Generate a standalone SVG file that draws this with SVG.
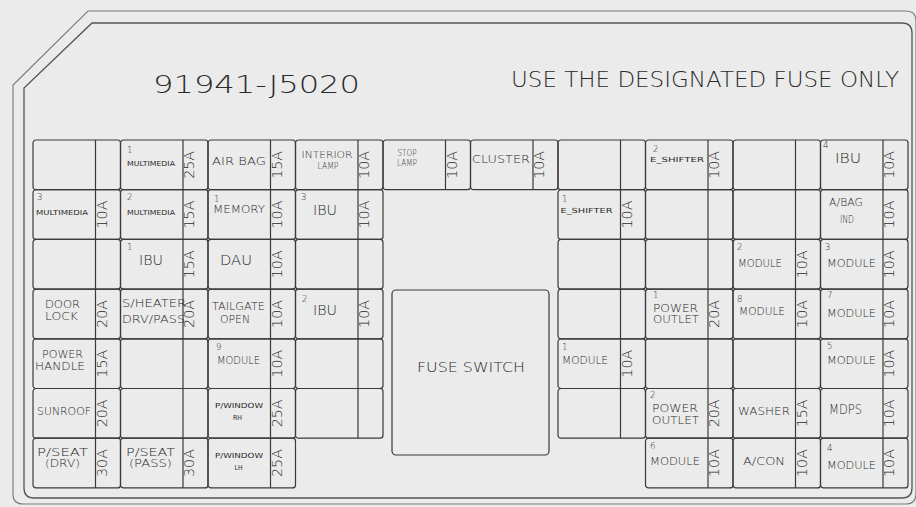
<svg xmlns="http://www.w3.org/2000/svg" width="916" height="507" viewBox="0 0 916 507">
<style>
.bg{fill:#ebebeb}
.bd{fill:none;stroke:#555;stroke-width:1.3}
.bo{fill:none;stroke:#7a7a7a;stroke-width:1.1}
.f{fill:none;stroke:#3a3a3a;stroke-width:1.2}
text{font-family:"DejaVu Sans","Liberation Sans",sans-serif;font-weight:200;fill:#2a2a2a}
.m{font-size:10.5px;text-anchor:middle}
.m9{font-size:9px;text-anchor:middle}
.l{font-size:10.5px}
.n{font-size:8.5px}
.s{font-size:7px;font-weight:400;text-anchor:middle}
.b{font-size:14px;text-anchor:middle}
.r{font-size:13.5px;text-anchor:middle}
</style>
<defs>
<g id="frame"><rect class="f" x="0" y="0" width="87.5" height="49.7" rx="3"/><line class="f" x1="62.5" y1="0" x2="62.5" y2="49.7"/></g>
</defs>
<rect class="bg" x="0" y="0" width="916" height="507"/>
<g id="border">
<path class="bo" d="M88,11 H906 Q916,11 916,21 V494 Q916,504 906,504 H23 Q13,504 13,494 V85 Z"/>
<path class="bd" d="M92,23 H902 Q912,23 912,33 V488 Q912,498 902,498 H34 Q24,498 24,488 V88 Z"/>
</g>
<g id="title">
<text x="153" y="93" style="font-size:25px" textLength="207" lengthAdjust="spacingAndGlyphs">91941-J5020</text>
<text x="511" y="87" style="font-size:20.5px" textLength="388" lengthAdjust="spacingAndGlyphs">USE THE DESIGNATED FUSE ONLY</text>
</g>

<!-- row 0 -->
<g id="r0c0"><use href="#frame" x="33" y="140"/></g>
<g id="r0c1"><use href="#frame" x="120.5" y="140"/><text class="n" x="127" y="153">1</text><text class="s" x="151" y="166" textLength="48" lengthAdjust="spacingAndGlyphs">MULTIMEDIA</text><text class="r" transform="translate(194,164.85) rotate(-90)" textLength="28" lengthAdjust="spacingAndGlyphs">25A</text></g>
<g id="r0c2"><use href="#frame" x="208" y="140"/><text class="m" x="239" y="165" textLength="54" lengthAdjust="spacingAndGlyphs">AIR BAG</text><text class="r" transform="translate(281.5,164.85) rotate(-90)" textLength="28" lengthAdjust="spacingAndGlyphs">15A</text></g>
<g id="r0c3"><use href="#frame" x="295.5" y="140"/><text class="m9" style="font-size:9.5px" x="327" y="158" textLength="51" lengthAdjust="spacingAndGlyphs">INTERIOR</text><text class="m9" style="font-size:9.5px" x="328" y="169" textLength="21" lengthAdjust="spacingAndGlyphs">LAMP</text><text class="r" transform="translate(369,164.85) rotate(-90)" textLength="28" lengthAdjust="spacingAndGlyphs">10A</text></g>
<g id="r0c4"><use href="#frame" x="383" y="140"/><text class="m9" x="407" y="156" textLength="19" lengthAdjust="spacingAndGlyphs">STOP</text><text class="m9" x="407" y="165.5" textLength="20" lengthAdjust="spacingAndGlyphs">LAMP</text><text class="r" transform="translate(456.5,164.85) rotate(-90)" textLength="28" lengthAdjust="spacingAndGlyphs">10A</text></g>
<g id="r0c5"><use href="#frame" x="470.5" y="140"/><text class="m" x="501" y="163" textLength="58" lengthAdjust="spacingAndGlyphs">CLUSTER</text><text class="r" transform="translate(544,164.85) rotate(-90)" textLength="28" lengthAdjust="spacingAndGlyphs">10A</text></g>
<g id="r0c6"><use href="#frame" x="558" y="140"/></g>
<g id="r0c7"><use href="#frame" x="645.5" y="140"/><text class="n" x="653" y="152">2</text><text class="s" x="677" y="162" textLength="54" lengthAdjust="spacingAndGlyphs">E_SHIFTER</text><text class="r" transform="translate(719,164.85) rotate(-90)" textLength="28" lengthAdjust="spacingAndGlyphs">10A</text></g>
<g id="r0c8"><use href="#frame" x="733" y="140"/></g>
<g id="r0c9"><use href="#frame" x="820.5" y="140"/><text class="n" x="823" y="148">4</text><text class="b" x="848" y="163" textLength="26" lengthAdjust="spacingAndGlyphs">IBU</text><text class="r" transform="translate(894,164.85) rotate(-90)" textLength="28" lengthAdjust="spacingAndGlyphs">10A</text></g>

<!-- row 1 -->
<g id="r1c0"><use href="#frame" x="33" y="189.7"/><text class="n" x="37" y="200">3</text><text class="s" x="62" y="215" textLength="52" lengthAdjust="spacingAndGlyphs">MULTIMEDIA</text><text class="r" transform="translate(106.5,214.55) rotate(-90)" textLength="28" lengthAdjust="spacingAndGlyphs">10A</text></g>
<g id="r1c1"><use href="#frame" x="120.5" y="189.7"/><text class="n" x="127" y="200">2</text><text class="s" x="151" y="215" textLength="48" lengthAdjust="spacingAndGlyphs">MULTIMEDIA</text><text class="r" transform="translate(194,214.55) rotate(-90)" textLength="28" lengthAdjust="spacingAndGlyphs">15A</text></g>
<g id="r1c2"><use href="#frame" x="208" y="189.7"/><text class="n" x="214" y="202">1</text><text class="m" x="239" y="213" textLength="52" lengthAdjust="spacingAndGlyphs">MEMORY</text><text class="r" transform="translate(281.5,214.55) rotate(-90)" textLength="28" lengthAdjust="spacingAndGlyphs">10A</text></g>
<g id="r1c3"><use href="#frame" x="295.5" y="189.7"/><text class="n" x="301" y="200">3</text><text class="b" x="325" y="215" textLength="24" lengthAdjust="spacingAndGlyphs">IBU</text><text class="r" transform="translate(369,214.55) rotate(-90)" textLength="28" lengthAdjust="spacingAndGlyphs">10A</text></g>
<g id="r1c6"><use href="#frame" x="558" y="189.7"/><text class="n" x="562" y="202">1</text><text class="s" x="586.5" y="213" textLength="52" lengthAdjust="spacingAndGlyphs">E_SHIFTER</text><text class="r" transform="translate(631.5,214.55) rotate(-90)" textLength="28" lengthAdjust="spacingAndGlyphs">10A</text></g>
<g id="r1c7"><use href="#frame" x="645.5" y="189.7"/></g>
<g id="r1c8"><use href="#frame" x="733" y="189.7"/></g>
<g id="r1c9"><use href="#frame" x="820.5" y="189.7"/><text class="m" x="846" y="206" textLength="34" lengthAdjust="spacingAndGlyphs">A/BAG</text><text class="m" x="847" y="223" textLength="14" lengthAdjust="spacingAndGlyphs">IND</text><text class="r" transform="translate(894,214.55) rotate(-90)" textLength="28" lengthAdjust="spacingAndGlyphs">10A</text></g>

<!-- row 2 -->
<g id="r2c0"><use href="#frame" x="33" y="239.4"/></g>
<g id="r2c1"><use href="#frame" x="120.5" y="239.4"/><text class="n" x="127" y="250">1</text><text class="b" x="151" y="265" textLength="24" lengthAdjust="spacingAndGlyphs">IBU</text><text class="r" transform="translate(194,264.25) rotate(-90)" textLength="28" lengthAdjust="spacingAndGlyphs">15A</text></g>
<g id="r2c2"><use href="#frame" x="208" y="239.4"/><text class="b" x="236" y="265" textLength="32" lengthAdjust="spacingAndGlyphs">DAU</text><text class="r" transform="translate(281.5,264.25) rotate(-90)" textLength="28" lengthAdjust="spacingAndGlyphs">10A</text></g>
<g id="r2c3"><use href="#frame" x="295.5" y="239.4"/></g>
<g id="r2c6"><use href="#frame" x="558" y="239.4"/></g>
<g id="r2c7"><use href="#frame" x="645.5" y="239.4"/></g>
<g id="r2c8"><use href="#frame" x="733" y="239.4"/><text class="n" x="737" y="250">2</text><text class="m" x="760" y="267" textLength="44" lengthAdjust="spacingAndGlyphs">MODULE</text><text class="r" transform="translate(806.5,264.25) rotate(-90)" textLength="28" lengthAdjust="spacingAndGlyphs">10A</text></g>
<g id="r2c9"><use href="#frame" x="820.5" y="239.4"/><text class="n" x="825" y="250">3</text><text class="m" x="851.5" y="267" textLength="49" lengthAdjust="spacingAndGlyphs">MODULE</text><text class="r" transform="translate(894,264.25) rotate(-90)" textLength="28" lengthAdjust="spacingAndGlyphs">10A</text></g>

<!-- row 3 -->
<g id="r3c0"><use href="#frame" x="33" y="289.1"/><text class="m" x="62.5" y="308" textLength="35" lengthAdjust="spacingAndGlyphs">DOOR</text><text class="m" x="61.5" y="320" textLength="33" lengthAdjust="spacingAndGlyphs">LOCK</text><text class="r" transform="translate(106.5,313.95) rotate(-90)" textLength="28" lengthAdjust="spacingAndGlyphs">20A</text></g>
<g id="r3c1"><use href="#frame" x="120.5" y="289.1"/><text class="r" transform="translate(194,313.95) rotate(-90)" textLength="28" lengthAdjust="spacingAndGlyphs">20A</text><text class="l" x="122" y="307" textLength="64" lengthAdjust="spacingAndGlyphs">S/HEATER</text><text class="l" x="122" y="323" textLength="63" lengthAdjust="spacingAndGlyphs">DRV/PASS</text></g>
<g id="r3c2"><use href="#frame" x="208" y="289.1"/><text class="m" x="238.5" y="310" textLength="53" lengthAdjust="spacingAndGlyphs">TAILGATE</text><text class="m" x="235" y="323" textLength="30" lengthAdjust="spacingAndGlyphs">OPEN</text><text class="r" transform="translate(281.5,313.95) rotate(-90)" textLength="28" lengthAdjust="spacingAndGlyphs">10A</text></g>
<g id="r3c3"><use href="#frame" x="295.5" y="289.1"/><text class="n" x="302" y="302">2</text><text class="b" x="325" y="315" textLength="24" lengthAdjust="spacingAndGlyphs">IBU</text><text class="r" transform="translate(369,313.95) rotate(-90)" textLength="28" lengthAdjust="spacingAndGlyphs">10A</text></g>
<g id="r3c6"><use href="#frame" x="558" y="289.1"/></g>
<g id="r3c7"><use href="#frame" x="645.5" y="289.1"/><text class="n" x="653" y="298">1</text><text class="l" x="653" y="312" textLength="45" lengthAdjust="spacingAndGlyphs">POWER</text><text class="l" x="653" y="323" textLength="46" lengthAdjust="spacingAndGlyphs">OUTLET</text><text class="r" transform="translate(719,313.95) rotate(-90)" textLength="28" lengthAdjust="spacingAndGlyphs">20A</text></g>
<g id="r3c8"><use href="#frame" x="733" y="289.1"/><text class="n" x="737" y="302">8</text><text class="m" x="762" y="315" textLength="46" lengthAdjust="spacingAndGlyphs">MODULE</text><text class="r" transform="translate(806.5,313.95) rotate(-90)" textLength="28" lengthAdjust="spacingAndGlyphs">10A</text></g>
<g id="r3c9"><use href="#frame" x="820.5" y="289.1"/><text class="n" x="827" y="298">7</text><text class="m" x="851.5" y="317" textLength="49" lengthAdjust="spacingAndGlyphs">MODULE</text><text class="r" transform="translate(894,313.95) rotate(-90)" textLength="28" lengthAdjust="spacingAndGlyphs">10A</text></g>

<!-- row 4 -->
<g id="r4c0"><use href="#frame" x="33" y="338.8"/><text class="m" x="62.5" y="358" textLength="41" lengthAdjust="spacingAndGlyphs">POWER</text><text class="m" x="60" y="370" textLength="50" lengthAdjust="spacingAndGlyphs">HANDLE</text><text class="r" transform="translate(106.5,363.65) rotate(-90)" textLength="28" lengthAdjust="spacingAndGlyphs">15A</text></g>
<g id="r4c1"><use href="#frame" x="120.5" y="338.8"/></g>
<g id="r4c2"><use href="#frame" x="208" y="338.8"/><text class="n" x="216" y="350">9</text><text class="m" x="238.5" y="364" textLength="43" lengthAdjust="spacingAndGlyphs">MODULE</text><text class="r" transform="translate(281.5,363.65) rotate(-90)" textLength="28" lengthAdjust="spacingAndGlyphs">10A</text></g>
<g id="r4c3"><use href="#frame" x="295.5" y="338.8"/></g>
<g id="r4c6"><use href="#frame" x="558" y="338.8"/><text class="n" x="562" y="350">1</text><text class="m" x="585" y="364" textLength="46" lengthAdjust="spacingAndGlyphs">MODULE</text><text class="r" transform="translate(631.5,363.65) rotate(-90)" textLength="28" lengthAdjust="spacingAndGlyphs">10A</text></g>
<g id="r4c7"><use href="#frame" x="645.5" y="338.8"/></g>
<g id="r4c8"><use href="#frame" x="733" y="338.8"/></g>
<g id="r4c9"><use href="#frame" x="820.5" y="338.8"/><text class="n" x="827" y="349">5</text><text class="m" x="851.5" y="364" textLength="49" lengthAdjust="spacingAndGlyphs">MODULE</text><text class="r" transform="translate(894,363.65) rotate(-90)" textLength="28" lengthAdjust="spacingAndGlyphs">10A</text></g>

<!-- row 5 -->
<g id="r5c0"><use href="#frame" x="33" y="388.5"/><text class="m" x="64" y="415" textLength="54" lengthAdjust="spacingAndGlyphs">SUNROOF</text><text class="r" transform="translate(106.5,413.35) rotate(-90)" textLength="28" lengthAdjust="spacingAndGlyphs">20A</text></g>
<g id="r5c1"><use href="#frame" x="120.5" y="388.5"/></g>
<g id="r5c2"><use href="#frame" x="208" y="388.5"/><text class="s" x="239" y="408" textLength="48" lengthAdjust="spacingAndGlyphs">P/WINDOW</text><text class="s" x="237.5" y="420" textLength="9" lengthAdjust="spacingAndGlyphs">RH</text><text class="r" transform="translate(281.5,413.35) rotate(-90)" textLength="28" lengthAdjust="spacingAndGlyphs">25A</text></g>
<g id="r5c3"><use href="#frame" x="295.5" y="388.5"/></g>
<g id="r5c6"><use href="#frame" x="558" y="388.5"/></g>
<g id="r5c7"><use href="#frame" x="645.5" y="388.5"/><text class="n" x="650" y="398">2</text><text class="l" x="652" y="412" textLength="46" lengthAdjust="spacingAndGlyphs">POWER</text><text class="l" x="652" y="424" textLength="47" lengthAdjust="spacingAndGlyphs">OUTLET</text><text class="r" transform="translate(719,413.35) rotate(-90)" textLength="28" lengthAdjust="spacingAndGlyphs">20A</text></g>
<g id="r5c8"><use href="#frame" x="733" y="388.5"/><text class="m" x="764" y="415" textLength="52" lengthAdjust="spacingAndGlyphs">WASHER</text><text class="r" transform="translate(806.5,413.35) rotate(-90)" textLength="28" lengthAdjust="spacingAndGlyphs">15A</text></g>
<g id="r5c9"><use href="#frame" x="820.5" y="388.5"/><text class="b" style="font-size:13.5px" x="845.5" y="414" textLength="33" lengthAdjust="spacingAndGlyphs">MDPS</text><text class="r" transform="translate(894,413.35) rotate(-90)" textLength="28" lengthAdjust="spacingAndGlyphs">10A</text></g>

<!-- row 6 -->
<g id="r6c0"><use href="#frame" x="33" y="438.2"/><text class="m" x="62.5" y="456" textLength="51" lengthAdjust="spacingAndGlyphs">P/SEAT</text><text class="m" x="62.5" y="467" textLength="35" lengthAdjust="spacingAndGlyphs">(DRV)</text><text class="r" transform="translate(106.5,463.05) rotate(-90)" textLength="28" lengthAdjust="spacingAndGlyphs">30A</text></g>
<g id="r6c1"><use href="#frame" x="120.5" y="438.2"/><text class="m" x="150.5" y="456" textLength="49" lengthAdjust="spacingAndGlyphs">P/SEAT</text><text class="m" x="150.5" y="467" textLength="43" lengthAdjust="spacingAndGlyphs">(PASS)</text><text class="r" transform="translate(194,463.05) rotate(-90)" textLength="28" lengthAdjust="spacingAndGlyphs">30A</text></g>
<g id="r6c2"><use href="#frame" x="208" y="438.2"/><text class="s" x="239" y="458" textLength="48" lengthAdjust="spacingAndGlyphs">P/WINDOW</text><text class="s" x="238.5" y="470" textLength="8" lengthAdjust="spacingAndGlyphs">LH</text><text class="r" transform="translate(281.5,463.05) rotate(-90)" textLength="28" lengthAdjust="spacingAndGlyphs">25A</text></g>
<g id="r6c7"><use href="#frame" x="645.5" y="438.2"/><text class="n" x="650" y="449">6</text><text class="m" x="675" y="465" textLength="50" lengthAdjust="spacingAndGlyphs">MODULE</text><text class="r" transform="translate(719,463.05) rotate(-90)" textLength="28" lengthAdjust="spacingAndGlyphs">10A</text></g>
<g id="r6c8"><use href="#frame" x="733" y="438.2"/><text class="m" x="764" y="465" textLength="42" lengthAdjust="spacingAndGlyphs">A/CON</text><text class="r" transform="translate(806.5,463.05) rotate(-90)" textLength="28" lengthAdjust="spacingAndGlyphs">10A</text></g>
<g id="r6c9"><use href="#frame" x="820.5" y="438.2"/><text class="n" x="827" y="451">4</text><text class="m" x="851.5" y="469" textLength="49" lengthAdjust="spacingAndGlyphs">MODULE</text><text class="r" transform="translate(894,463.05) rotate(-90)" textLength="28" lengthAdjust="spacingAndGlyphs">10A</text></g>

<g id="fuse-switch"><rect class="f" x="392" y="290" width="157" height="165" rx="4"/><text class="b" style="font-size:13.5px" x="471" y="372" textLength="108" lengthAdjust="spacingAndGlyphs">FUSE SWITCH</text></g>
</svg>
